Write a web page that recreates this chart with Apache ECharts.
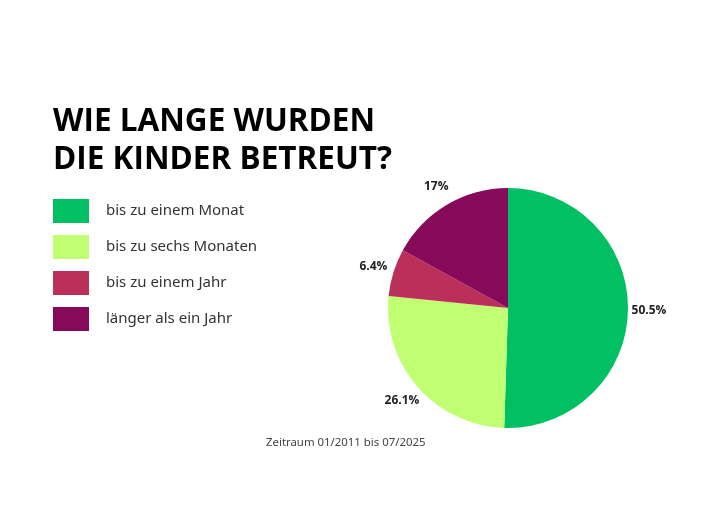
<!DOCTYPE html>
<html>
<head>
<meta charset="utf-8">
<script src="https://cdn.jsdelivr.net/npm/echarts@6/dist/echarts.min.js"></script>
<style>
  html, body { margin: 0; padding: 0; background: #fff; }
  #chart { width: 705px; height: 529px; }
</style>
</head>
<body>
<div id="chart"></div>
<script>
// Betreuungsdauer – Kreisdiagramm mit Legende links
const categories = ['bis zu einem Monat', 'bis zu sechs Monaten', 'bis zu einem Jahr', 'länger als ein Jahr']
const shares = [50.5, 26.1, 6.4, 17]
const colors = ['#01c064', '#c1ff72', '#bb2f5b', '#870a5a']

const chart = echarts.init(document.getElementById('chart'))

const pieData = categories.map((name, i) => ({ name, value: shares[i] }))

chart.setOption({
  backgroundColor: '#fff',
  color: colors,
  title: [
    {
      text: 'WIE LANGE WURDEN\nDIE KINDER BETREUT?',
      left: 48,
      top: 98,
      textStyle: {
        fontFamily: 'Open Sans',
        fontWeight: 'bold',
        fontSize: 31.5,
        lineHeight: 38,
        color: '#000',
      },
    },
    {
      text: 'Zeitraum 01/2011 bis 07/2025',
      left: 261,
      top: 432,
      textStyle: {
        fontFamily: 'Noto Sans',
        fontWeight: 'normal',
        fontSize: 11.4,
        color: '#444',
      },
    },
  ],
  legend: {
    orient: 'vertical',
    left: 48,
    top: 194,
    itemWidth: 36,
    itemHeight: 24,
    itemGap: 12,
    icon: 'rect',
    selectedMode: false,
    data: categories,
    textStyle: {
      fontFamily: 'Noto Sans',
      fontSize: 15,
      color: '#333',
      padding: [0, 0, 0, 12],
    },
  },
  series: [
    {
      type: 'pie',
      center: [508, 308],
      radius: 120,
      startAngle: 90,
      silent: true,
      data: pieData,
      label: { show: false },
      labelLine: { show: false },
      itemStyle: { borderWidth: 0 },
    },
    // unsichtbarer Ring nur für die Prozentbeschriftung (zentriert bei r≈138)
    {
      type: 'pie',
      center: [508, 308],
      radius: [120, 156],
      startAngle: 90,
      silent: true,
      data: pieData,
      itemStyle: { color: 'rgba(0,0,0,0)', borderWidth: 0 },
      label: {
        show: true,
        position: 'inside',
        formatter: (p) => p.value + '%',
        fontFamily: 'Open Sans',
        fontWeight: 'bold',
        fontSize: 12,
        color: '#222',
      },
      labelLine: { show: false },
    },
  ],
})
</script>
</body>
</html>
